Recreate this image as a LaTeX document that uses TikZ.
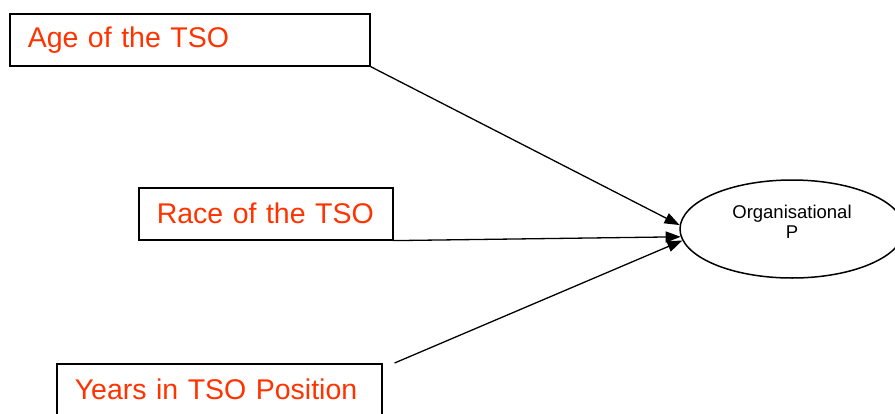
\documentclass[tikz,border=0pt]{standalone}
\usepackage{fontspec}
\setmainfont{Liberation Sans}
\usetikzlibrary{shapes.geometric,arrows.meta}
\definecolor{tsored}{RGB}{255,51,0}
\tikzset{
  factor/.style={draw, line width=1.6pt, anchor=north west, text=tsored,
    font=\fontsize{28.5}{34}\selectfont, inner xsep=18pt, minimum height=52pt, align=left},
  effect/.style={-{Triangle[length=15pt,width=11pt]}, line width=1.3pt}
}
\begin{document}
\begin{tikzpicture}[x=1pt,y=-1pt]
	 \useasboundingbox (0,0) rectangle (895,413);
	 \node[factor, text width=324pt] (age) at (9,13) {Age of the TSO};
	 \node[factor, text width=218pt] (race) at (138,187) {Race of the TSO};
	 \node[factor, text width=289pt] (yrs) at (56,363) {Years in TSO Position};
	 \node[ellipse, draw, line width=1.5pt, minimum width=224pt, minimum height=98pt] (org) at (792,229) {};
	 \node[font=\fontsize{18.5}{19.5}\selectfont, align=center] (orgtext) at (792,222) {Organisational\\P};
	 \draw[effect] (age.south east) -- (org.178);
	 \draw[effect] (race.south east) -- (org.184);
	 \draw[effect] ([xshift=12pt]yrs.north east) -- (org.186);
\end{tikzpicture}
\end{document}
